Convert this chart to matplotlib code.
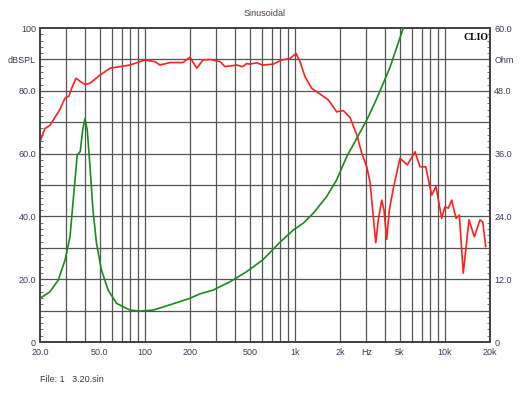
import matplotlib
matplotlib.use("Agg")
import matplotlib.pyplot as plt
import numpy as np

# SPL curve (dB)
spl_freq = [20, 21.6, 23.3, 27.1, 29.4, 31.2, 32.5, 34.8, 37.1, 39.9, 43.1, 50.2, 58.6,
            79.6, 92.8, 100, 116.7, 126, 147, 179.5, 200, 222, 244, 272, 317, 342,
            410, 449, 478, 500, 557, 609, 718, 817, 929, 1018, 1083, 1169, 1295,
            1471, 1671, 1901, 2104, 2333, 2609, 2790, 3014, 3170, 3304, 3461, 3601,
            3795, 3931, 4096, 4264, 4533, 5024, 5621, 6325, 6830, 7453, 8172, 8730,
            9530, 10024, 10545, 11110, 11870, 12490, 13270, 14490, 15720, 17150,
            17880, 18730]
spl_db = [63.9, 68, 69, 74, 77.7, 78.3, 80.8, 84, 83, 82, 82.4, 85, 87.2,
          88.2, 89.3, 89.8, 89.3, 88.2, 89, 89, 90.7, 87.2, 89.8, 90, 89.3, 87.7,
          88.2, 87.7, 88.7, 88.5, 88.9, 88.2, 88.5, 89.8, 90.3, 91.9, 89.3, 84.5, 80.8,
          79, 77.1, 73.3, 73.7, 71.5, 65.5, 60.2, 55.8, 51, 42, 31.6, 38.9,
          45.2, 42, 32.7, 42, 48.9, 58.5, 56.4, 60.6, 55.8, 55.8, 46.8, 49.5,
          39.4, 43.1, 42.6, 45.2, 39.4, 40.4, 21.9, 38.9, 33.5, 38.9,
          38.3, 30.4]

# impedance curve (Ohm)
imp_freq = [20, 23.3, 26.5, 29.4, 31.7, 33.3, 35.4, 37.1, 38.5, 39.9, 41.3, 43.1,
            45.1, 47.6, 51.3, 57, 64.7, 79.6, 92.8, 113.8, 147, 200, 233, 284, 369,
            475, 612, 785, 977, 1138, 1327, 1630, 1901, 2216, 2585, 3014, 3514,
            4310, 5285, 6000]
imp_ohm = [8.35, 9.6, 11.85, 15.7, 20.1, 27.1, 35.7, 36.4, 40.5, 42.7, 40.5, 33.5,
           25.2, 18.9, 13.8, 9.9, 7.4, 6.1, 5.9, 6.1, 7.1, 8.35, 9.2, 9.9, 11.5,
           13.4, 15.7, 18.9, 21.4, 22.7, 24.6, 27.8, 31, 35.4, 38.9, 42.4, 46.5,
           52.5, 60, 64]

x_ticks = [20, 50, 100, 200, 500, 1000, 2000, 3000, 5000, 10000, 20000]
x_labels = ["20.0", "50.0", "100", "200", "500", "1k", "2k", "Hz", "5k", "10k", "20k"]
left_ticks = [0, 20, 40, 60, 80, 90, 100]
left_labels = ["0", "20.0", "40.0", "60.0", "80.0", "dBSPL", "100"]
right_ticks = [0, 12, 24, 36, 48, 54, 60]
right_labels = ["0", "12.0", "24.0", "36.0", "48.0", "Ohm", "60.0"]

lbl_color = "#3a3a5a"
grid_color = "#555555"
plt.rcParams["font.family"] = ["Liberation Sans", "DejaVu Sans"]

fig = plt.figure(figsize=(5.3, 3.98), dpi=100)
ax = fig.add_axes([40 / 530, 1 - 342 / 398, 450 / 530, 314 / 398])
ax.set_xscale("log")
ax.set_xlim(20, 20000)
ax.set_ylim(0, 100)

# grid: every decade step and every 10 dB
for d in [10, 100, 1000, 10000]:
    for m in range(1, 10):
        f = d * m
        if 20 < f < 20000:
            ax.axvline(f, color=grid_color, lw=0.9, zorder=1)
for v in range(10, 100, 10):
    ax.axhline(v, color=grid_color, lw=0.9, zorder=1)

ax.plot(spl_freq, spl_db, color="#ff1f1f", lw=1.2, zorder=3)

ax2 = ax.twinx()
ax2.set_ylim(0, 60)
ax2.plot(imp_freq, imp_ohm, color="#1a8a1a", lw=1.2, zorder=3)

ax.set_xticks(x_ticks)
ax.set_xticklabels(x_labels)
ax.xaxis.set_minor_locator(matplotlib.ticker.NullLocator())
ax.set_yticks(left_ticks)
ax.set_yticklabels(left_labels)
ax.set_yticks(np.arange(0, 101, 2), minor=True)
ax2.set_yticks(right_ticks)
ax2.set_yticklabels(right_labels)
ax2.set_yticks(np.arange(0, 61, 1.2), minor=True)

ax.tick_params(axis="x", length=0, pad=4, labelsize=6.5, labelcolor=lbl_color)
ax.tick_params(axis="y", which="major", length=0, pad=3, labelsize=6.5, labelcolor=lbl_color)
ax.tick_params(axis="y", which="minor", direction="in", length=2, color=grid_color, width=0.6)
ax2.tick_params(axis="y", which="major", length=0, pad=3, labelsize=6.5, labelcolor=lbl_color)
ax2.tick_params(axis="y", which="minor", direction="in", length=2, color=grid_color, width=0.6)

for a in (ax, ax2):
    for s in a.spines.values():
        s.set_color("#444444")
        s.set_linewidth(1.3)

fig.text(265 / 530, 1 - 13 / 398, "Sinusoidal", ha="center", va="center",
         fontsize=6.5, color="#4a3a4a")
ax.text(0.997, 0.985, "CLIO", transform=ax.transAxes, ha="right", va="top",
        fontsize=7, fontweight="bold", family="Liberation Serif", color="black", zorder=5)
fig.text(40 / 530, 1 - 379 / 398, "File: 1   3.20.sin", ha="left", va="center",
         fontsize=6.5, color="#3a3a3a")

fig.savefig("out.png", dpi=100)
